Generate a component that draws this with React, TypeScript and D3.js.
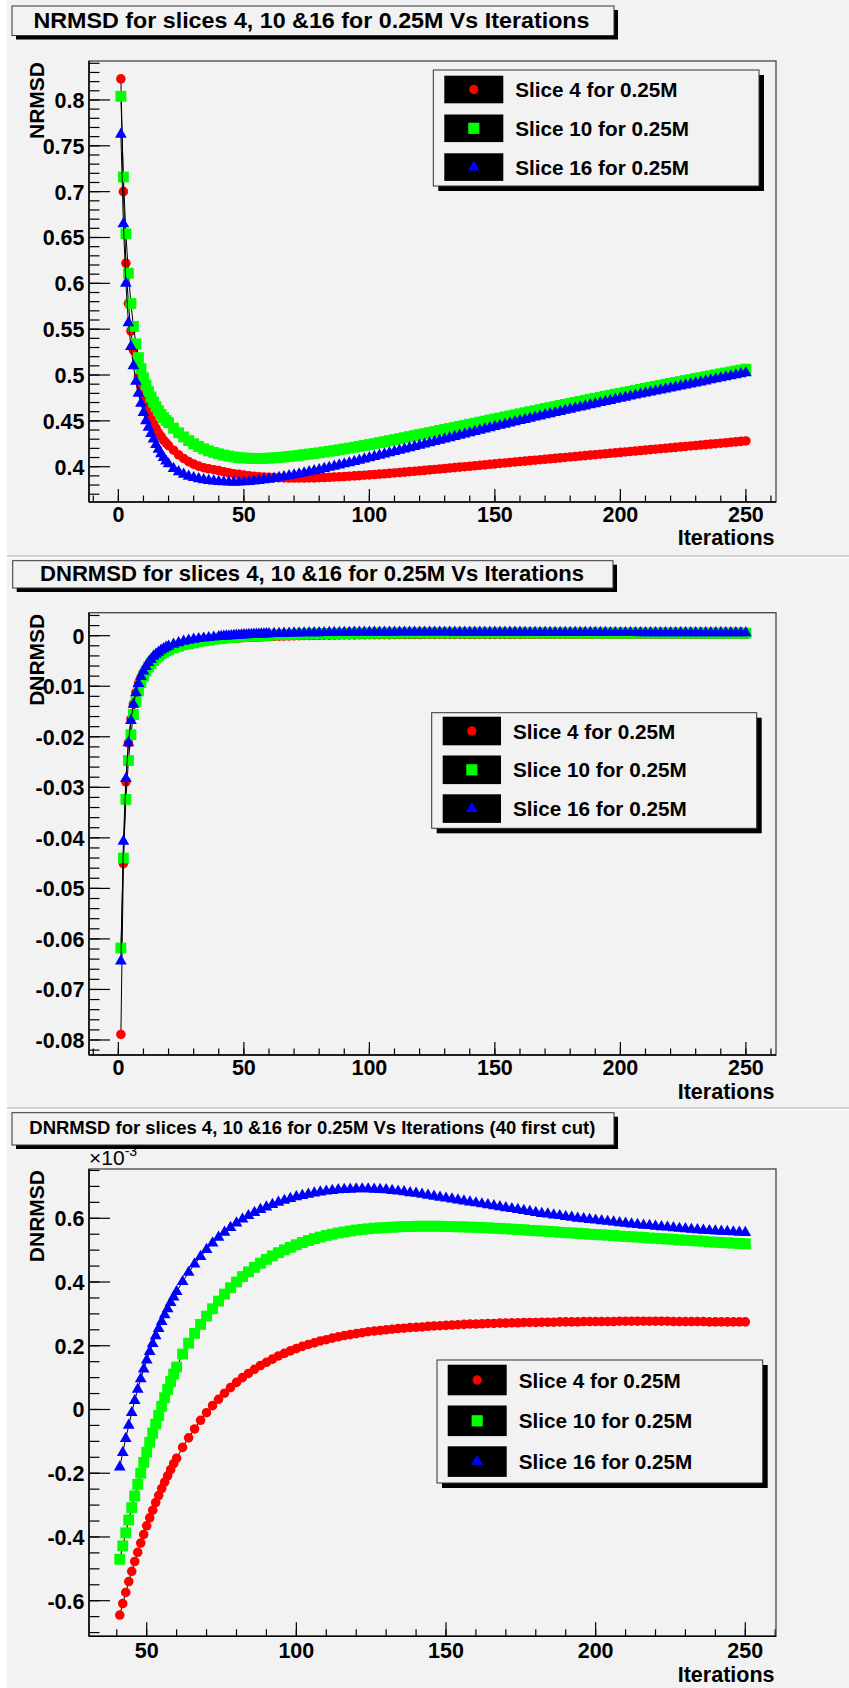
import React from 'react';
import * as d3 from 'd3';

const FONT = '"Liberation Sans", Arial, Helvetica, sans-serif';
const BG = '#f2f2f2';

// ---- iterations (x values) ----
const itersN = d3.range(1, 21).concat(d3.range(22, 251, 2));
const itersDEarly = d3.range(1, 21).concat(d3.range(22, 41, 2));
const itersDLate = d3.range(41, 61).concat(d3.range(62, 251, 2));

const nrmsdSlice4 = [
  0.823, 0.700, 0.622, 0.578, 0.548, 0.527, 0.511, 0.498, 0.487, 0.477, 0.468, 0.460, 0.453, 0.447, 0.442, 0.437, 0.433, 0.429, 0.426, 0.423,
  0.418, 0.413, 0.409, 0.4055, 0.4028, 0.4006, 0.3989, 0.3977, 0.3967, 0.3958,
  0.3945, 0.3934, 0.3924, 0.3916, 0.3908, 0.3902, 0.3896, 0.3891, 0.3887, 0.3884,
  0.3881, 0.3879, 0.3877, 0.3876, 0.3876, 0.3876, 0.3876, 0.3877, 0.3878, 0.388,
  0.3882, 0.3884, 0.3887, 0.389, 0.3893, 0.3896, 0.39, 0.3903, 0.3907, 0.3911,
  0.3915, 0.3919, 0.3923, 0.3927, 0.3932, 0.3936, 0.3941, 0.3946, 0.395, 0.3955,
  0.396, 0.3965, 0.397, 0.3975, 0.398, 0.3985, 0.399, 0.3995, 0.4, 0.4005,
  0.401, 0.4015, 0.402, 0.4026, 0.4031,
  0.4036, 0.4041, 0.4046, 0.4051, 0.4056, 0.4061, 0.4066, 0.4071, 0.4076, 0.4081,
  0.4086, 0.4091, 0.4096, 0.4101, 0.4106, 0.4111, 0.4116, 0.4121, 0.4126, 0.4131,
  0.4136, 0.4141, 0.4146, 0.4151, 0.4156, 0.4161, 0.4166, 0.4171, 0.4176, 0.4181,
  0.4186, 0.4191, 0.4196, 0.4201, 0.4206, 0.4211, 0.4216, 0.4221, 0.4226, 0.4231,
  0.4236, 0.4241, 0.4246, 0.4251, 0.4256, 0.4261, 0.4266, 0.4271, 0.4276, 0.4281,
];
const nrmsdSlice10 = [
  0.804, 0.716, 0.654, 0.611, 0.578, 0.553, 0.534, 0.519, 0.507, 0.497, 0.489, 0.482, 0.476, 0.4705, 0.4655, 0.461, 0.457, 0.4535, 0.4505, 0.448,
  0.442, 0.437, 0.4325, 0.4285, 0.425, 0.422, 0.4195, 0.4173, 0.4155, 0.414,
  0.4127, 0.4116, 0.4107, 0.41, 0.4095, 0.4092, 0.409, 0.409, 0.4091, 0.4093,
  0.4097, 0.4101, 0.4106, 0.4112, 0.4118, 0.4124, 0.4131, 0.4138, 0.4145, 0.4152,
  0.416, 0.4168, 0.4176, 0.4185, 0.4194, 0.4203, 0.4212, 0.4222, 0.4232, 0.4242,
  0.4252, 0.4263, 0.4273, 0.4284, 0.4295, 0.4306, 0.4317, 0.4328, 0.4339, 0.435,
  0.4361, 0.4372, 0.4383, 0.4395, 0.4406, 0.4417, 0.4429, 0.444, 0.4451, 0.4463,
  0.4474, 0.4486, 0.4497, 0.4509, 0.452,
  0.4531, 0.4543, 0.4554, 0.4566, 0.4577, 0.4588, 0.46, 0.4611, 0.4622, 0.4634,
  0.4645, 0.4656, 0.4668, 0.4679, 0.469, 0.4701, 0.4712, 0.4724, 0.4735, 0.4746,
  0.4757, 0.4768, 0.4779, 0.479, 0.4801, 0.4812, 0.4822, 0.4833, 0.4844, 0.4855,
  0.4866, 0.4876, 0.4887, 0.4898, 0.4908, 0.4919, 0.4929, 0.494, 0.495, 0.4961,
  0.4971, 0.4982, 0.4992, 0.5002, 0.5013, 0.5023, 0.5033, 0.5044, 0.5054, 0.5064,
];
const nrmsdSlice16 = [
  0.7625, 0.665, 0.600, 0.557, 0.531, 0.510, 0.493, 0.480, 0.469, 0.459, 0.450, 0.443, 0.436, 0.430, 0.424, 0.419, 0.414, 0.410, 0.406, 0.403,
  0.398, 0.3945, 0.3917, 0.3896, 0.388, 0.3867, 0.3857, 0.3849, 0.3843, 0.3838,
  0.3834, 0.3831, 0.383, 0.3831, 0.3834, 0.3838, 0.3843, 0.3849, 0.3856, 0.3863,
  0.3872, 0.3881, 0.3891, 0.39, 0.391, 0.3921, 0.3932, 0.3944, 0.3955, 0.3967,
  0.3979, 0.3992, 0.4004, 0.4017, 0.403, 0.4043, 0.4056, 0.407, 0.4083, 0.4096,
  0.411, 0.4124, 0.4137, 0.4151, 0.4165, 0.4178, 0.4192, 0.4206, 0.4219, 0.4233,
  0.4247, 0.4261, 0.4274, 0.4288, 0.4302, 0.4315, 0.4329, 0.4343, 0.4356, 0.437,
  0.4383, 0.4397, 0.441, 0.4424, 0.4437,
  0.445, 0.4463, 0.4476, 0.4489, 0.4502, 0.4514, 0.4527, 0.454, 0.4552, 0.4565,
  0.4577, 0.4589, 0.4602, 0.4614, 0.4626, 0.4638, 0.465, 0.4662, 0.4674, 0.4686,
  0.4698, 0.471, 0.4722, 0.4734, 0.4746, 0.4757, 0.4769, 0.478, 0.4792, 0.4803,
  0.4814, 0.4825, 0.4836, 0.4847, 0.4858, 0.4869, 0.488, 0.4891, 0.4902, 0.4913,
  0.4924, 0.4935, 0.4946, 0.4957, 0.4968, 0.4979, 0.499, 0.5001, 0.5012, 0.5023,
];

// ---- DNRMSD, first 40 iterations (panel 2) ----
const dEarlySlice4 = [
  -0.0789, -0.0451, -0.0289, -0.0212, -0.0165, -0.0135, -0.0112, -0.0095, -0.0083, -0.0073,
  -0.0065, -0.0058, -0.0052, -0.0047, -0.0042, -0.0038, -0.0035, -0.0032, -0.0029, -0.0027,
  -0.0023, -0.002, -0.0017, -0.0015, -0.0013, -0.0011, -0.001, -0.0009, -0.0008, -0.0007,
];
const dEarlySlice10 = [
  -0.0618, -0.044, -0.0324, -0.0247, -0.0196, -0.0156, -0.0131, -0.0109, -0.0093, -0.008,
  -0.007, -0.0062, -0.0055, -0.0049, -0.0044, -0.004, -0.0036, -0.0033, -0.003, -0.0028,
  -0.0024, -0.0021, -0.0018, -0.0016, -0.0014, -0.0012, -0.001, -0.0009, -0.0007, -0.0006,
];
const dEarlySlice16 = [
  -0.0644, -0.0407, -0.0283, -0.0212, -0.0168, -0.0136, -0.0113, -0.0095, -0.0081, -0.007,
  -0.0061, -0.0053, -0.0047, -0.0041, -0.0037, -0.0033, -0.0029, -0.0026, -0.0023, -0.0021,
  -0.0017, -0.0014, -0.0011, -0.0009, -0.0007, -0.0006, -0.0005, -0.0004, -0.0003, -0.0002,
];

// ---- DNRMSD after the 40 first iterations, in units of 1e-3 (panel 3) ----
const dLateSlice4 = [
  -0.645, -0.609, -0.574, -0.540, -0.508, -0.477, -0.448, -0.419, -0.392, -0.365,
  -0.340, -0.316, -0.292, -0.270, -0.248, -0.228, -0.208, -0.189, -0.170, -0.153,
  -0.119, -0.089, -0.061, -0.034, -0.010, 0.012, 0.032, 0.051, 0.069, 0.085,
  0.100, 0.113, 0.126, 0.138, 0.148, 0.158, 0.168, 0.176, 0.184, 0.191,
  0.198, 0.204, 0.209, 0.215, 0.219, 0.224, 0.228, 0.232, 0.235, 0.238,
  0.241, 0.244, 0.246, 0.248, 0.250, 0.252, 0.254, 0.255, 0.257, 0.258,
  0.259, 0.261, 0.262, 0.263, 0.264, 0.265, 0.266, 0.267, 0.268, 0.268,
  0.269, 0.270, 0.270, 0.271, 0.271, 0.272, 0.272, 0.273, 0.273, 0.273,
  0.274, 0.274, 0.274, 0.275, 0.275, 0.275, 0.275, 0.276, 0.276, 0.276,
  0.276, 0.276, 0.276, 0.277, 0.277, 0.277, 0.277, 0.277, 0.277, 0.277,
  0.277, 0.277, 0.276, 0.276, 0.276, 0.276, 0.276, 0.276, 0.275, 0.275,
  0.275, 0.275, 0.275, 0.275, 0.275,
];
const dLateSlice10 = [
  -0.47, -0.428, -0.387, -0.347, -0.308, -0.271, -0.235, -0.2, -0.166, -0.134,
  -0.103, -0.074, -0.046, -0.019, 0.01, 0.037, 0.063, 0.088, 0.111, 0.133,
  0.174, 0.208, 0.239, 0.267, 0.293, 0.316, 0.34, 0.362, 0.382, 0.4,
  0.417, 0.432, 0.446, 0.459, 0.471, 0.482, 0.492, 0.501, 0.509, 0.517,
  0.524, 0.53, 0.536, 0.541, 0.546, 0.55, 0.554, 0.557, 0.56, 0.563,
  0.565, 0.567, 0.569, 0.57, 0.571, 0.572, 0.573, 0.574, 0.574, 0.575,
  0.575, 0.575, 0.575, 0.575, 0.574, 0.574, 0.573, 0.573, 0.572, 0.572,
  0.571, 0.57, 0.569, 0.568, 0.567, 0.566, 0.565, 0.564, 0.562, 0.561,
  0.56, 0.559, 0.558, 0.556, 0.555, 0.554, 0.553, 0.552, 0.55, 0.549,
  0.548, 0.547, 0.546, 0.544, 0.543, 0.542, 0.541, 0.54, 0.538, 0.537,
  0.536, 0.535, 0.534, 0.532, 0.531, 0.53, 0.529, 0.528, 0.526, 0.525,
  0.524, 0.523, 0.522, 0.521, 0.52,
];
const dLateSlice16 = [
  -0.181, -0.135, -0.091, -0.05, -0.01, 0.028, 0.063, 0.096, 0.127, 0.155,
  0.182, 0.207, 0.231, 0.254, 0.276, 0.297, 0.316, 0.335, 0.353, 0.37,
  0.401, 0.43, 0.456, 0.48, 0.502, 0.522, 0.54, 0.556, 0.571, 0.585,
  0.597, 0.608, 0.618, 0.627, 0.635, 0.643, 0.65, 0.656, 0.662, 0.667,
  0.671, 0.675, 0.679, 0.682, 0.685, 0.687, 0.689, 0.69, 0.691, 0.692,
  0.692, 0.692, 0.691, 0.69, 0.689, 0.687, 0.685, 0.683, 0.68, 0.678,
  0.675, 0.672, 0.669, 0.666, 0.663, 0.66, 0.657, 0.654, 0.651, 0.648,
  0.645, 0.642, 0.639, 0.636, 0.633, 0.63, 0.627, 0.624, 0.621, 0.618,
  0.615, 0.613, 0.61, 0.608, 0.605, 0.603, 0.6, 0.598, 0.596, 0.594,
  0.592, 0.59, 0.588, 0.586, 0.584, 0.582, 0.58, 0.578, 0.577, 0.575,
  0.573, 0.572, 0.57, 0.568, 0.567, 0.565, 0.564, 0.562, 0.561, 0.56,
  0.559, 0.558, 0.557, 0.556, 0.555,
];

const legendLabels = ['Slice 4 for 0.25M', 'Slice 10 for 0.25M', 'Slice 16 for 0.25M'];

type Shape = 'circle' | 'square' | 'triangle';
const SHAPES = { circle: d3.symbolCircle, square: d3.symbolSquare, triangle: d3.symbolTriangle };
const PLOT_SIZE = { circle: 72, square: 118, triangle: 60 };
const LEGEND_SIZE = { circle: 68, square: 125, triangle: 60 };
const STYLES: { color: string; shape: Shape }[] = [
  { color: '#ff0000', shape: 'circle' },
  { color: '#00ff00', shape: 'square' },
  { color: '#0000ff', shape: 'triangle' },
];

interface SeriesDef { x: number[]; y: number[] }
interface LegendDef { x: number; y: number; w: number; h: number; row0: number; pitch: number; rowH: number; entryX: number; entryW: number }
interface PanelDef {
  title: string; titleFont: number; titleBox: [number, number, number, number];
  titleX: number; titleY: number; titleLen: number;
  frame: [number, number, number, number];
  xDomain: [number, number]; yDomain: [number, number];
  xMajor: number[]; xMinor: number[]; yMajor: number[]; yMinor: number[];
  xTick: number; yTick: number; xLabelY: number; xTitleY: number;
  yTitle: string; legend: LegendDef; series: SeriesDef[]; exponent?: boolean;
}

const fmt = (v: number) => String(+v.toFixed(4));

const Panel: React.FC<{ p: PanelDef }> = ({ p }) => {
  const [fx0, fy0, fx1, fy1] = p.frame;
  const x = d3.scaleLinear().domain(p.xDomain).range([fx0, fx1]);
  const y = d3.scaleLinear().domain(p.yDomain).range([fy1, fy0]);
  const line = d3.line<number>();
  const [bx, by, bw, bh] = p.titleBox;
  const lg = p.legend;

  return (
    <g>
      {/* title box */}
      <rect x={bx + 4} y={by + 4} width={bw} height={bh} fill="#000" />
      <rect x={bx} y={by} width={bw} height={bh} fill={BG} stroke="#333" strokeWidth={1} />
      <text x={p.titleX} y={p.titleY} fontSize={p.titleFont} fontWeight="bold" textLength={p.titleLen} lengthAdjust="spacingAndGlyphs">{p.title}</text>

      {/* ticks */}
      {p.yMinor.map((v, i) => (
        <line key={'ym' + i} x1={fx0} x2={fx0 + p.yTick / 2} y1={y(v)} y2={y(v)} stroke="#000" strokeWidth={1.2} />
      ))}
      {p.yMajor.map((v, i) => (
        <g key={'yM' + i}>
          <line x1={fx0} x2={fx0 + p.yTick} y1={y(v)} y2={y(v)} stroke="#000" strokeWidth={1.2} />
          <text x={fx0 - 4.5} y={y(v) + 8} textAnchor="end" fontSize={21.5} fontWeight="bold">{fmt(v)}</text>
        </g>
      ))}
      {p.xMinor.map((v, i) => (
        <line key={'xm' + i} x1={x(v)} x2={x(v)} y1={fy1} y2={fy1 - p.xTick / 2} stroke="#000" strokeWidth={1.2} />
      ))}
      {p.xMajor.map((v, i) => (
        <g key={'xM' + i}>
          <line x1={x(v)} x2={x(v)} y1={fy1} y2={fy1 - p.xTick} stroke="#000" strokeWidth={1.2} />
          <text x={x(v)} y={p.xLabelY} textAnchor="middle" fontSize={21.5} fontWeight="bold">{fmt(v)}</text>
        </g>
      ))}

      {/* series: line then markers, red -> green -> blue */}
      {p.series.map((s, si) => {
        const st = STYLES[si];
        const pts = s.x.map((xv, i) => [x(xv), y(s.y[i])] as [number, number]);
        const sym = d3.symbol().type(SHAPES[st.shape]).size(PLOT_SIZE[st.shape])() as string;
        return (
          <g key={'s' + si}>
            <path d={line(pts as any) as string} fill="none" stroke="#000" strokeWidth={1} />
            {pts.map((pt, i) => (
              <path key={i} d={sym} transform={`translate(${pt[0]},${pt[1]})`} fill={st.color} />
            ))}
          </g>
        );
      })}

      {/* frame */}
      <rect x={fx0} y={fy0} width={fx1 - fx0} height={fy1 - fy0} fill="none" stroke="#444" strokeWidth={1.3} />
      <line x1={fx0} x2={fx0} y1={fy0} y2={fy1} stroke="#000" strokeWidth={1.5} />
      <line x1={fx0} x2={fx1} y1={fy1} y2={fy1} stroke="#000" strokeWidth={1.5} />

      {/* axis titles */}
      <text x={fx1 - 1.5} y={p.xTitleY} textAnchor="end" fontSize={21.5} fontWeight="bold">Iterations</text>
      <text transform={`translate(43.5,${fy0 + 1}) rotate(-90)`} textAnchor="end" fontSize={21} fontWeight="bold">{p.yTitle}</text>
      {p.exponent && (
        <text x={fx0} y={fy0 - 4} fontSize={21}>
          ×10<tspan dy={-9} fontSize={14}>-3</tspan>
        </text>
      )}

      {/* legend */}
      <rect x={lg.x + 5} y={lg.y + 5} width={lg.w} height={lg.h} fill="#000" />
      <rect x={lg.x} y={lg.y} width={lg.w} height={lg.h} fill={BG} stroke="#333" strokeWidth={1} />
      {legendLabels.map((lab, i) => {
        const st = STYLES[i];
        const ry = lg.y + lg.row0 + i * lg.pitch;
        const sym = d3.symbol().type(SHAPES[st.shape]).size(LEGEND_SIZE[st.shape])() as string;
        return (
          <g key={'l' + i}>
            <rect x={lg.entryX} y={ry} width={lg.entryW} height={lg.rowH} fill="#000" />
            <path d={sym} transform={`translate(${lg.entryX + lg.entryW / 2},${ry + lg.rowH / 2})`} fill={st.color} />
            <text x={lg.entryX + lg.entryW + 12} y={ry + lg.rowH / 2 + 7.5} fontSize={20.7} fontWeight="bold">{lab}</text>
          </g>
        );
      })}
    </g>
  );
};

const xMajorFull = d3.range(0, 251, 50);
const xMinorFull = d3.range(-10, 261, 10);

const panel1: PanelDef = {
  title: 'NRMSD for slices 4, 10 &16 for 0.25M Vs Iterations',
  titleFont: 22, titleBox: [12, 6, 602, 29.5], titleX: 33.5, titleY: 28, titleLen: 556,
  frame: [89, 61, 776, 502],
  xDomain: [-11.7, 262.0], yDomain: [0.3615, 0.8425],
  xMajor: xMajorFull, xMinor: xMinorFull,
  yMajor: d3.range(8, 17).map(k => k / 20), yMinor: d3.range(37, 85).map(k => k / 100),
  xTick: 13, yTick: 21, xLabelY: 521.5, xTitleY: 545,
  yTitle: 'NRMSD',
  legend: { x: 433.3, y: 70, w: 325.7, h: 116, row0: 5.7, pitch: 38.8, rowH: 27.6, entryX: 444.3, entryW: 59 },
  series: [
    { x: itersN, y: nrmsdSlice4 },
    { x: itersN, y: nrmsdSlice10 },
    { x: itersN, y: nrmsdSlice16 },
  ],
};

const itersD = itersDEarly.concat(itersDLate);
const panel2: PanelDef = {
  title: 'DNRMSD for slices 4, 10 &16 for 0.25M Vs Iterations',
  titleFont: 22, titleBox: [12.7, 560.7, 600.3, 27.3], titleX: 40, titleY: 580.5, titleLen: 544,
  frame: [89, 612.7, 776, 1055],
  xDomain: [-11.7, 262.0], yDomain: [-0.08297, 0.00455],
  xMajor: xMajorFull, xMinor: xMinorFull,
  yMajor: d3.range(-8, 1).map(k => k * 0.01), yMinor: d3.range(-41, 3).map(k => k * 0.002),
  xTick: 13, yTick: 21, xLabelY: 1075, xTitleY: 1099.3,
  yTitle: 'DNRMSD',
  legend: { x: 431.7, y: 712.7, w: 325, h: 115.6, row0: 4, pitch: 38.8, rowH: 28.6, entryX: 442.7, entryW: 58.3 },
  series: [
    { x: itersD, y: dEarlySlice4.concat(dLateSlice4.map(v => v * 1e-3)) },
    { x: itersD, y: dEarlySlice10.concat(dLateSlice10.map(v => v * 1e-3)) },
    { x: itersD, y: dEarlySlice16.concat(dLateSlice16.map(v => v * 1e-3)) },
  ],
};

const panel3: PanelDef = {
  title: 'DNRMSD for slices 4, 10 &16 for 0.25M Vs Iterations (40 first cut)',
  titleFont: 18.5, titleBox: [12, 1112.7, 602, 32.3], titleX: 29.3, titleY: 1134, titleLen: 566,
  frame: [89, 1169, 776, 1636.3],
  xDomain: [30.72, 260.26], yDomain: [-0.7117, 0.7546],
  xMajor: d3.range(50, 251, 50), xMinor: d3.range(40, 261, 10),
  yMajor: d3.range(-3, 4).map(k => k * 0.2), yMinor: d3.range(-14, 16).map(k => k * 0.05),
  xTick: 14, yTick: 21, xLabelY: 1658, xTitleY: 1682.3,
  yTitle: 'DNRMSD', exponent: true,
  legend: { x: 437, y: 1360, w: 325.7, h: 123, row0: 4.7, pitch: 40.8, rowH: 30.6, entryX: 447.7, entryW: 59 },
  series: [
    { x: itersDLate, y: dLateSlice4 },
    { x: itersDLate, y: dLateSlice10 },
    { x: itersDLate, y: dLateSlice16 },
  ],
};

export default function App() {
  return (
    <svg width={849} height={1688} style={{ position: 'absolute', left: 0, top: 0, background: '#fff' }} fontFamily={FONT}>
      <rect x={7} y={0} width={842} height={555.5} fill={BG} />
      <line x1={7} x2={849} y1={556} y2={556} stroke="#a8a8a8" strokeWidth={1.2} />
      <rect x={7} y={558.5} width={842} height={548.5} fill={BG} />
      <line x1={7} x2={849} y1={1108} y2={1108} stroke="#a8a8a8" strokeWidth={1.2} />
      <rect x={7} y={1110.5} width={842} height={577.5} fill={BG} />
      <Panel p={panel1} />
      <Panel p={panel2} />
      <Panel p={panel3} />
    </svg>
  );
}
